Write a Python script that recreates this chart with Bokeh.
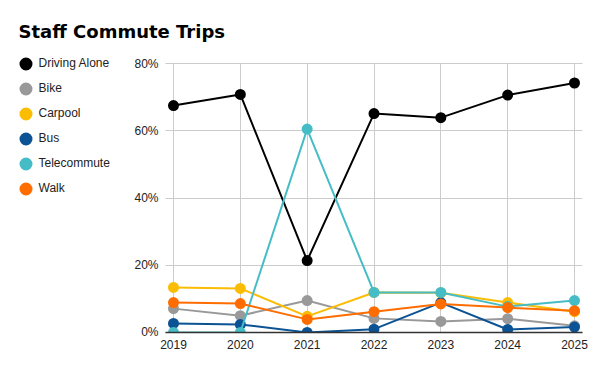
from bokeh.plotting import figure
from bokeh.models import (Legend, LegendItem, FixedTicker, NumeralTickFormatter,
                          Range1d, Label, BoxAnnotation)
from bokeh.embed import file_html
from bokeh.resources import INLINE

years = [2019, 2020, 2021, 2022, 2023, 2024, 2025]
driving_alone = [0.675, 0.708, 0.214, 0.651, 0.639, 0.706, 0.742]
bike = [0.071, 0.050, 0.095, 0.042, 0.033, 0.041, 0.020]
carpool = [0.134, 0.131, 0.048, 0.119, 0.118, 0.089, 0.062]
bus = [0.027, 0.024, 0.000, 0.010, 0.089, 0.009, 0.016]
telecommute = [0.000, 0.000, 0.605, 0.119, 0.119, 0.077, 0.095]
walk = [0.089, 0.086, 0.039, 0.062, 0.085, 0.074, 0.065]

series_names = ["Driving Alone", "Bike", "Carpool", "Bus", "Telecommute", "Walk"]
series_values = [driving_alone, bike, carpool, bus, telecommute, walk]
series_colors = ["#000000", "#999999", "#fbbc04", "#0b5394", "#46bdc6", "#ff6d01"]
y_ticks = [0, 0.2, 0.4, 0.6, 0.8]

# plotting-area bounds (data units) and the padded ranges that place it on the canvas
X_LO, X_HI = 2018.88, 2025.12
Y_LO, Y_HI = 0.0, 0.8

p = figure(width=600, height=371, output_backend="svg", toolbar_location=None,
           x_range=Range1d(2016.4115, 2025.389), y_range=Range1d(-0.116, 0.9874),
           min_border=0)
p.min_border_left = 0
p.min_border_right = 0
p.min_border_top = 0
p.min_border_bottom = 0
p.outline_line_color = None
p.background_fill_color = "white"
p.border_fill_color = "white"

items = []
for name, vals, col in zip(series_names, series_values, series_colors):
    p.line(years, vals, line_color=col, line_width=2)
    r = p.scatter(years, vals, size=8, fill_color=col, line_color=col, line_width=3)
    items.append(LegendItem(label=name, renderers=[r]))

# mask what falls below the baseline (the chart clips at 0%)
mask = BoxAnnotation(top=Y_LO, bottom=-0.116, left=X_LO - 0.2, right=X_HI + 0.2,
                     fill_color="white", fill_alpha=1, line_color=None, level="glyph")
p.add_layout(mask)

legend = Legend(items=items, location=(12.5, 170.5), padding=0, margin=0,
                glyph_width=25, glyph_height=25, spacing=0, label_standoff=1,
                label_height=14, label_text_font="Liberation Sans",
                label_text_font_size="12px", label_text_color="#222222",
                border_line_color=None, background_fill_alpha=0)
p.add_layout(legend, "center")

title = Label(x=18, y=340, x_units="screen", y_units="screen",
              text="Staff Commute Trips", text_font="DejaVu Sans",
              text_font_style="bold", text_font_size="18px", text_color="#000000",
              text_baseline="middle", text_align="left")
p.add_layout(title)

p.xaxis.fixed_location = Y_LO
p.xaxis.bounds = (X_LO, X_HI)
p.xaxis.ticker = FixedTicker(ticks=years)
p.xaxis.axis_line_color = "#333333"
p.xaxis.axis_line_width = 1.5
p.xaxis.major_tick_line_color = None
p.xaxis.minor_tick_line_color = None
p.xaxis.major_tick_out = 0
p.xaxis.major_tick_in = 0
p.xaxis.major_label_standoff = 8
p.xaxis.major_label_text_font = "Liberation Sans"
p.xaxis.major_label_text_font_size = "12px"
p.xaxis.major_label_text_color = "#222222"

p.yaxis.fixed_location = X_LO
p.yaxis.bounds = (Y_LO, Y_HI)
p.yaxis.ticker = FixedTicker(ticks=y_ticks)
p.yaxis.formatter = NumeralTickFormatter(format="0%")
p.yaxis.axis_line_color = None
p.yaxis.major_tick_line_color = None
p.yaxis.minor_tick_line_color = None
p.yaxis.major_tick_out = 0
p.yaxis.major_tick_in = 0
p.yaxis.major_label_standoff = 7
p.yaxis.major_label_text_font = "Liberation Sans"
p.yaxis.major_label_text_font_size = "12px"
p.yaxis.major_label_text_color = "#222222"

p.xgrid.ticker = FixedTicker(ticks=years)
p.xgrid.cross_bounds = (Y_LO, Y_HI)
p.xgrid.grid_line_color = "#cccccc"
p.ygrid.ticker = FixedTicker(ticks=y_ticks)
p.ygrid.cross_bounds = (X_LO, X_HI)
p.ygrid.grid_line_color = "#cccccc"

open("out.html", "w").write(file_html(p, INLINE))
